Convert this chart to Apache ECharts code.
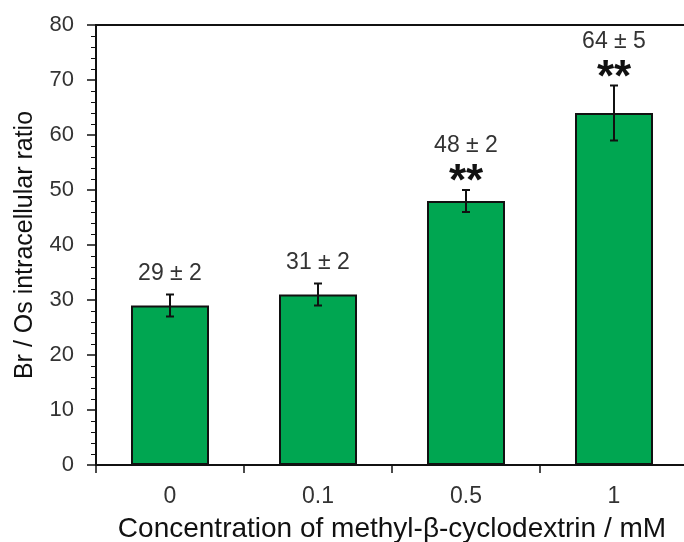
<!DOCTYPE html>
<html>
<head>
<meta charset="utf-8">
<script src="https://cdn.jsdelivr.net/npm/echarts@6/dist/echarts.min.js"></script>
<style>
  html, body { margin: 0; padding: 0; background: #fff; }
  #chart { width: 684px; height: 542px; }
</style>
</head>
<body>
<div id="chart"></div>
<script>
// Br/Os intracellular ratio vs methyl-β-cyclodextrin concentration
const categories = ['0', '0.1', '0.5', '1'];
const ratioMean = [29, 31, 48, 64];
const ratioError = [2, 2, 2, 5];
const significance = ['', '', '**', '**'];
const yTicks = { min: 0, max: 80, step: 10 };

const FONT = '"Liberation Sans", Arial, sans-serif';
const INK = '#111';

const chart = echarts.init(document.getElementById('chart'));

function renderErrorBar(params, api) {
  const i = api.value(0);
  const m = api.value(1);
  const e = api.value(2);
  const top = api.coord([i, m + e]);
  const bot = api.coord([i, m - e]);
  const x = top[0];
  const cap = 4;
  const lineStyle = { stroke: INK, lineWidth: 2 };
  const children = [
    { type: 'line', shape: { x1: x, y1: top[1], x2: x, y2: bot[1] }, style: lineStyle },
    { type: 'line', shape: { x1: x - cap, y1: top[1], x2: x + cap, y2: top[1] }, style: lineStyle },
    { type: 'line', shape: { x1: x - cap, y1: bot[1], x2: x + cap, y2: bot[1] }, style: lineStyle }
  ];
  const mark = significance[i];
  const labelText = ratioMean[i] + ' ± ' + ratioError[i];
  const labelOffset = mark ? 44 : 21;
  children.push({
    type: 'text',
    style: {
      text: labelText, x: x, y: top[1] - labelOffset,
      align: 'center', verticalAlign: 'middle',
      fontSize: 23, fontFamily: FONT, fill: '#333'
    }
  });
  if (mark) {
    children.push({
      type: 'text',
      style: {
        text: mark, x: x, y: top[1] - 17 + 10,
        align: 'center', verticalAlign: 'middle',
        fontSize: 44, fontWeight: 'bold', fontFamily: FONT, fill: INK
      }
    });
  }
  return { type: 'group', children: children };
}

chart.setOption({
  animation: false,
  grid: {
    left: 96, top: 25, right: -4, bottom: 77,
    outerBoundsMode: 'none',
    containLabel: false,
    show: true, borderColor: INK, borderWidth: 2, backgroundColor: '#fff'
  },
  xAxis: {
    type: 'category',
    data: categories,
    axisLine: { lineStyle: { color: INK, width: 2 } },
    axisTick: { show: true, length: 8, lineStyle: { color: INK, width: 1.5 } },
    axisLabel: { fontSize: 23, color: '#333', margin: 20, fontFamily: FONT },
    name: 'Concentration of methyl-β-cyclodextrin / mM',
    nameLocation: 'middle',
    nameGap: 50,
    nameTextStyle: { fontSize: 28, color: INK, fontFamily: FONT }
  },
  yAxis: {
    type: 'value',
    min: yTicks.min, max: yTicks.max, interval: yTicks.step,
    axisLine: { show: true, lineStyle: { color: INK, width: 2 } },
    axisTick: { show: true, length: 9, lineStyle: { color: INK, width: 1.5 } },
    minorTick: { show: true, splitNumber: 5, length: 5, lineStyle: { color: INK, width: 1 } },
    splitLine: { show: false },
    axisLabel: { fontSize: 22, color: '#333', margin: 22, fontFamily: FONT },
    name: 'Br / Os intracellular ratio',
    nameLocation: 'middle',
    nameGap: 58,
    nameTextStyle: { fontSize: 25, color: INK, fontFamily: FONT }
  },
  series: [
    {
      type: 'bar',
      data: ratioMean,
      barWidth: 78,
      itemStyle: { color: '#00a651', borderColor: INK, borderWidth: 2 }
    },
    {
      type: 'custom',
      renderItem: renderErrorBar,
      data: categories.map((c, i) => [i, ratioMean[i], ratioError[i]]),
      z: 10
    }
  ]
});
</script>
</body>
</html>
